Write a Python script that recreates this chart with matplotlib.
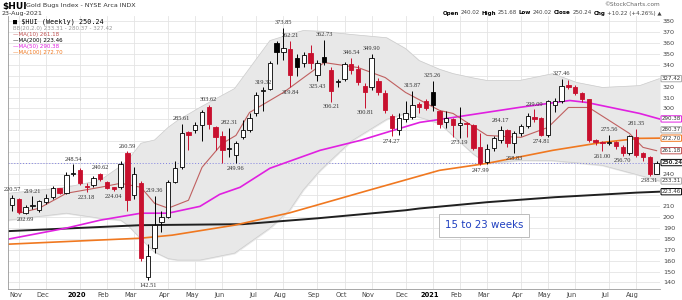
import numpy as np
import matplotlib.pyplot as plt

# weekly candles, week of 28-Oct-2019 .. 23-Aug-2021 (96 bars)
opens = [211, 217, 204, 210, 206.5, 214, 218.5, 226.5, 222, 240,
         243, 229, 229.5, 240, 232, 227.5, 227.5, 259, 220.5, 231,
         145, 171.5, 195.5, 200, 232, 246, 278, 280, 284.5, 301,
         282.5, 275, 263, 257, 273.5, 280, 295.5, 316, 318, 360,
         352, 355, 346, 342, 351, 330.5, 347.5, 335, 324, 327.5,
         341, 336.5, 321, 319.5, 325.5, 314.5, 293.5, 280, 290, 292,
         304.5, 307, 314.7, 298, 288, 290, 284.4, 287, 284.4, 264.2,
         250.5, 263.3, 270.6, 279.8, 267.9, 277, 283.5, 291.7, 290.8, 275.2,
         302.8, 307.3, 322, 320, 313.8, 308.3, 270.6, 268.5, 268, 268.8,
         264.2, 258.7, 273.4, 258.7, 255, 240.02]
highs = [220.57, 218, 211, 219.21, 216, 221, 229, 227, 242, 248.54,
         245, 231, 238, 240.62, 233, 228, 252, 260.59, 246, 233,
         175, 219.36, 206, 234, 252, 285.61, 279, 288, 299, 303.62,
         284, 279, 282.31, 270, 289, 296, 315, 319.32, 344, 362,
         373.85, 362.21, 350, 352, 358, 345, 362.73, 338, 327, 343,
         346.54, 340, 323, 349.9, 328, 317, 295, 296, 307, 315.87,
         306, 309, 325.26, 299, 298, 291, 301, 288, 286, 277,
         267, 275, 284.17, 281, 279, 286, 296, 299.09, 292, 308,
         310, 327.46, 326, 322, 315, 309, 272, 270, 275.56, 270,
         266, 276, 281.35, 260, 256, 251.68]
lows = [206, 203, 202.69, 208, 205, 212, 217, 221, 221, 238,
        230, 223.18, 228, 233, 226, 224.04, 226, 206, 217, 160,
        142.51, 167, 186, 199, 231, 244, 262, 277, 270, 281,
        262, 250, 255, 249.96, 272, 278, 293, 298, 317, 341,
        345, 319.84, 330, 338, 336, 325.43, 340, 306.21, 320, 325,
        332, 322, 300.81, 317, 312, 296, 274.27, 276, 288, 290,
        296, 299, 298, 282, 282, 273.4, 273.19, 273.4, 262, 247.99,
        249, 261, 268, 265, 258.83, 275, 282, 288, 274.81, 274,
        297, 305, 318, 312, 306, 269, 266, 261.0, 266, 263,
        256.7, 257, 255, 252, 238.31, 240.02]
closes = [218, 205, 209, 210.5, 214.5, 217.5, 226.5, 222, 238.5, 241,
          231.5, 227.5, 236.5, 235, 227, 226, 249, 216, 240, 162.5,
          164.5, 192.5, 200, 232, 245, 277, 276, 285, 297, 286,
          273.5, 261.5, 263.5, 268, 280.5, 291.5, 312, 317, 342, 352,
          356, 331, 337.8, 349.5, 341.5, 342, 343, 316.5, 325, 341,
          335, 324, 315, 346.5, 315, 298.5, 282, 291.5, 296, 303.5,
          301, 300.5, 302.8, 285.3, 290.8, 284.4, 287, 285.3, 263.3, 249.5,
          262.4, 272.5, 279.8, 267.9, 277, 283.5, 292.7, 289.9, 275.2, 306.4,
          307.3, 321, 320, 313.8, 308.3, 270.6, 268.8, 268.2, 268.5, 265.2,
          258.7, 274.3, 256.9, 255, 240.02, 250.24]
prev_close = 212

# price labels on swing highs / lows: (week, text, 'h' or 'l')
swing_labels = [(0, '220.57', 'h'), (2, '202.69', 'l'), (3, '219.21', 'h'),
                (9, '248.54', 'h'), (11, '223.18', 'l'), (13, '240.62', 'h'),
                (15, '224.04', 'l'), (17, '260.59', 'h'), (20, '142.51', 'l'),
                (21, '219.36', 'h'), (25, '285.61', 'h'), (29, '303.62', 'h'),
                (32, '282.31', 'h'), (33, '249.96', 'l'), (37, '319.32', 'h'),
                (40, '373.85', 'h'), (41, '362.21', 'h'), (41, '319.84', 'l'),
                (45, '325.43', 'l'), (46, '362.73', 'h'), (47, '306.21', 'l'),
                (50, '346.54', 'h'), (52, '300.81', 'l'), (53, '349.90', 'h'),
                (56, '274.27', 'l'), (59, '315.87', 'h'), (62, '325.26', 'h'),
                (66, '273.19', 'l'), (69, '247.99', 'l'), (72, '284.17', 'h'),
                (74, '258.83', 'l'), (77, '299.09', 'h'), (78, '274.81', 'l'),
                (81, '327.46', 'h'), (87, '261.00', 'l'), (88, '275.56', 'h'),
                (90, '256.70', 'l'), (92, '281.35', 'h'), (94, '238.31', 'l')]

# overlays at a few weeks
ma10_w = [1, 4, 8, 13, 16, 19, 21, 23, 26, 28, 31, 33, 35, 40, 46, 51, 55, 58, 63, 65, 70, 75, 79, 82, 85, 88, 91, 93, 95]
ma10_v = [203.7, 208.3, 222, 227.5, 231.2, 227.5, 212.8, 208.3, 215.6, 245.9, 267.9, 275.2, 296.3, 314.7, 342.2, 337.6, 328.4, 314.7, 298.2, 295.4, 275.2, 273.4, 282.6, 300.9, 300.9, 289, 277, 264.2, 261.18]
ma50_w = [-0.6, 8, 13, 19, 23, 27.7, 30.6, 33.6, 38, 45.4, 51.3, 55.2, 60.1, 65, 74.8, 82.2, 84.7, 92.5, 95.4]
ma50_v = [179.8, 190, 197.3, 203.7, 203.7, 210, 221, 227.5, 245, 261.5, 270.6, 278, 287.2, 291.7, 301, 307.3, 305.5, 295.4, 290.38]
ma100_w = [-0.6, 18.9, 23.6, 32.8, 40.9, 45.4, 52.7, 60.1, 63, 70, 79.7, 87, 92.5, 95.4]
ma100_v = [175.2, 180.7, 183.5, 192.7, 204, 212, 225, 238, 243.1, 249.5, 261.5, 268.8, 272.5, 272.7]
ma200_w = [-0.6, 19, 34, 45, 58, 60, 70, 80, 92, 95.4]
ma200_v = [187.2, 192.7, 193.6, 199, 206.4, 208, 213.8, 218.4, 222.6, 223.46]
bb_w = [-0.6, 8, 13, 16, 17, 19, 21, 23, 24.4, 27.7, 32.8, 38, 40.9, 42.9, 45.4, 50, 55.2, 58, 60, 63, 65, 68, 70, 74.8, 79.7, 83.2, 87, 92.5, 95.4]
bb_up = [222, 227.5, 234, 247, 252, 268, 271, 282.6, 289, 301, 318.3, 362.4, 368, 371.6, 371, 368, 365, 355, 344, 336, 332, 328, 325.7, 325.7, 332, 323.9, 319.3, 321, 327.42]
bb_lo = [197.3, 203.7, 199, 197.3, 193, 180, 168, 162, 160.6, 160.6, 167, 190, 206.4, 225, 243, 270, 290, 295.4, 292, 286.2, 275, 258, 249.5, 252.3, 252, 250, 247.7, 238.5, 233.31]

# month grid (week index) and labels
month_w = [1, 5, 10, 14, 18, 23, 27, 31, 36, 40, 45, 49, 53, 58, 62, 66, 70, 75, 79, 83, 88, 92]
month_lbl = ['Nov', 'Dec', '2020', 'Feb', 'Mar', 'Apr', 'May', 'Jun', 'Jul', 'Aug', 'Sep',
             'Oct', 'Nov', 'Dec', '2021', 'Feb', 'Mar', 'Apr', 'May', 'Jun', 'Jul', 'Aug']

# boxed values on the price axis
axis_vals = [327.42, 290.38, 280.37, 272.70, 261.18, 250.24, 233.31, 223.46]
axis_cols = ['#aaaaaa', '#e020e0', '#aaaaaa', '#f07820', '#c05050', '#000000', '#aaaaaa', '#000000']

RED = '#c8102e'

fig = plt.figure(figsize=(6.82, 3.0), dpi=100)
ax = fig.add_axes([8 / 682, 11 / 300, 652 / 682, 273 / 300])
ax.set_xlim(-0.6, 95.5)
ax.set_ylim(134, 385)

# grid
for w in month_w:
    ax.axvline(w, color='#e4e4e4', lw=0.6, zorder=0)
for v in range(140, 390, 10):
    ax.axhline(v, color='#e4e4e4', lw=0.6, zorder=0)

# bollinger band
ax.fill_between(bb_w, bb_lo, bb_up, color='#e8e8e8', zorder=1)
ax.plot(bb_w, bb_up, color='#cccccc', lw=0.5, zorder=1)
ax.plot(bb_w, bb_lo, color='#cccccc', lw=0.5, zorder=1)

# moving averages
ax.plot(ma200_w, ma200_v, color='#202020', lw=1.4, zorder=2)
ax.plot(ma100_w, ma100_v, color='#f07820', lw=1.2, zorder=2)
ax.plot(ma50_w, ma50_v, color='#e020e0', lw=1.2, zorder=2)
ax.plot(ma10_w, ma10_v, color='#c06060', lw=0.8, zorder=2)

# last close
ax.axhline(closes[-1], color='#8080e0', lw=0.7, ls=(0, (1, 2)), zorder=1)

# candles
pc = prev_close
for i in range(len(opens)):
    o, h, l, c = opens[i], highs[i], lows[i], closes[i]
    col = RED if c < pc else 'black'
    ax.vlines(i, l, h, color=col, lw=0.7, zorder=3)
    bot, top = min(o, c), max(o, c)
    if top - bot < 0.8:
        top = bot + 0.8
    face = 'white' if c >= o else col
    ax.add_patch(plt.Rectangle((i - 0.32, bot), 0.64, top - bot, facecolor=face,
                               edgecolor=col, lw=0.6, zorder=4))
    pc = c

for w, txt, kind in swing_labels:
    if kind == 'h':
        ax.annotate(txt, (w, highs[w]), xytext=(0, 2), textcoords='offset points',
                    ha='center', va='bottom', fontsize=4.6, family='Liberation Serif', color='#333333', zorder=5)
    else:
        ax.annotate(txt, (w, lows[w]), xytext=(0, -2), textcoords='offset points',
                    ha='center', va='top', fontsize=4.6, family='Liberation Serif', color='#333333', zorder=5)

# axes styling
for s in ['top', 'right']:
    ax.spines[s].set_visible(False)
ax.spines['left'].set_color('#999999')
ax.spines['bottom'].set_color('#999999')
ax.spines['left'].set_linewidth(0.6)
ax.spines['bottom'].set_linewidth(0.6)
ax.yaxis.tick_right()
yt = list(range(140, 390, 10))
ax.set_yticks(yt)
# tick numbers that sit under a boxed value are hidden, as on the original
ax.set_yticklabels(['' if min(abs(t - v) for v in axis_vals) < 5 else str(t) for t in yt])
ax.tick_params(axis='y', length=0, labelsize=4.6, labelcolor='#444444', pad=2)
ax.set_xticks([w - 0.5 for w in month_w])
ax.set_xticklabels(month_lbl)
ax.tick_params(axis='x', length=0, labelsize=4.8, labelcolor='#444444', pad=2)
for t in ax.get_xticklabels():
    if t.get_text() in ('2020', '2021'):
        t.set_fontweight('bold')
        t.set_color('black')

for v, c in zip(axis_vals, axis_cols):
    ax.annotate('%.2f' % v, (1.0, v), xycoords=('axes fraction', 'data'), xytext=(1.2, 0),
                textcoords='offset points', ha='left', va='center', fontsize=4.0,
                fontweight='bold' if v == 250.24 else 'normal', color='#333333', zorder=6,
                bbox=dict(boxstyle='round,pad=0.12', fc='white', ec=c, lw=0.7),
                annotation_clip=False)

# text box
ax.text(0.67, 0.233, '15 to 23 weeks', transform=ax.transAxes, fontsize=7.4, color='#2040c0',
        ha='left', va='center', zorder=6,
        bbox=dict(boxstyle='square,pad=0.6', fc='white', ec='#bbbbbb', lw=0.7))

# legend
lx = 0.007
ax.text(lx, 0.99, '\u25a0 $HUI (Weekly) 250.24', transform=ax.transAxes, fontsize=4.9,
        family='DejaVu Sans Mono', va='top', color='black', zorder=6)
leg = [('BB(20,2.0) 233.31 - 280.37 - 327.42', '#999999'), ('\u2014MA(10) 261.18', '#c05050'),
       ('\u2014MA(200) 223.46', '#000000'), ('\u2014MA(50) 290.38', '#e020e0'),
       ('\u2014MA(100) 272.70', '#f07820')]
for k, (txt, c) in enumerate(leg):
    ax.text(lx, 0.962 - k * 0.022, txt, transform=ax.transAxes, fontsize=4.0, va='top', color=c, zorder=6)

# header
fig.text(2 / 682, 1 - 6 / 300, '$HUI', fontsize=6.5, fontweight='bold', va='center')
fig.text(26 / 682, 1 - 6 / 300, 'Gold Bugs Index - NYSE Arca INDX', fontsize=4.6, color='#333333', va='center')
fig.text(2 / 682, 1 - 13 / 300, '23-Aug-2021', fontsize=4.6, color='#333333', va='center')
fig.text(660 / 682, 1 - 4 / 300, '\u00a9StockCharts.com', fontsize=4.2, color='#666666', va='center', ha='right')

# open/high/low/close line, chained right to left
hdr = [('Open', True), ('240.02', False), ('High', True), ('251.68', False),
       ('Low', True), ('240.02', False), ('Close', True), ('250.24', False),
       ('Chg', True), ('+10.22 (+4.26%) \u25b2', False)]
prev = fig.text(662 / 682, 1 - 13 / 300, hdr[-1][0], fontsize=3.95, va='center', ha='right', color='#444444')
for s, b in reversed(hdr[:-1]):
    prev = ax.annotate(s, (0, 0.5), xycoords=prev, xytext=(-1.3, 0), textcoords='offset points',
                       ha='right', va='center', fontsize=3.95, annotation_clip=False,
                       fontweight='bold' if b else 'normal', color='black' if b else '#444444')

fig.savefig('out.png', dpi=100, facecolor='white')
